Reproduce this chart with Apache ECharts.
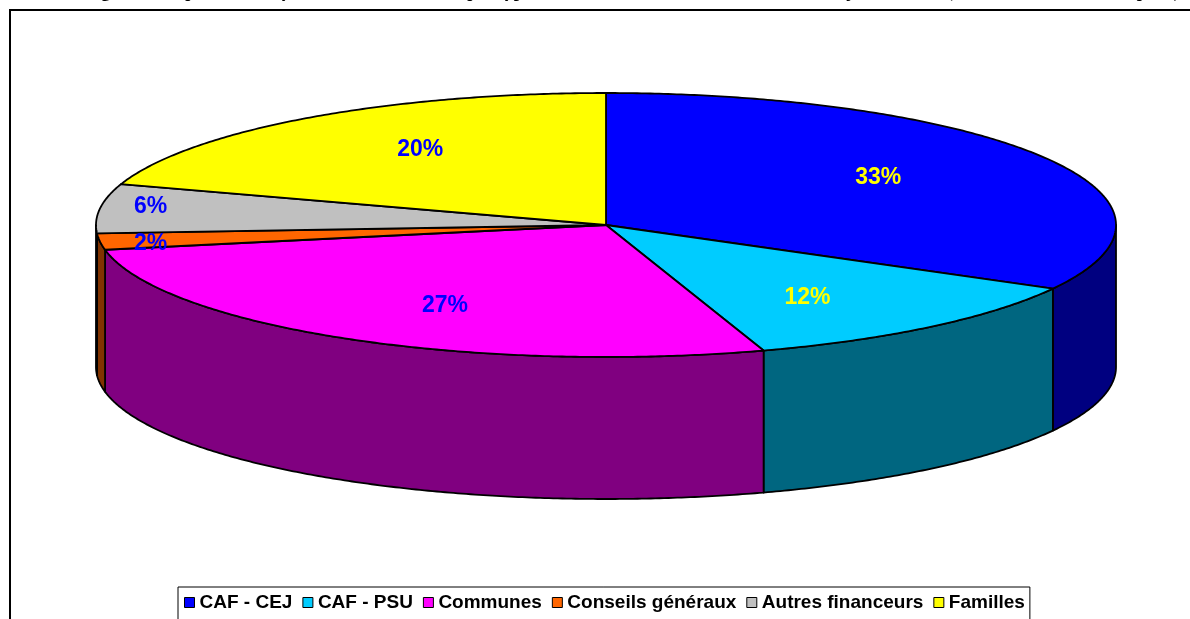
<!DOCTYPE html>
<html><head><meta charset="utf-8">
<script src="https://cdn.jsdelivr.net/npm/echarts@6/dist/echarts.min.js"></script>
<style>html,body{margin:0;padding:0;background:#fff;overflow:hidden}#c{width:1190px;height:619px}</style>
</head><body><div id="c"></div>
<script>
// ---- data ----
const categories = ['CAF - CEJ', 'CAF - PSU', 'Communes', 'Conseils généraux', 'Autres financeurs', 'Familles'];
const shares = [33, 12, 27, 2, 6, 20];
const titleText = 'Figure 9 : Répartition moyenne des financements par type de financeur des structures d’accueil du jeune enfant (en %, données 2006, enquête)';

// ---- styles ----
const topColors = ['#0000FF', '#00CCFF', '#FF00FF', '#FF6600', '#C0C0C0', '#FFFF00'];
const sideColors = ['#000080', '#006680', '#800080', '#803300', '#606060', '#808000'];
const labelColors = ['#FFFF00', '#FFFF00', '#0000FF', '#0000FF', '#0000FF', '#0000FF'];

const CX = 606, CY = 225, RX = 510, RY = 132, DEPTH = 142;
const total = shares.reduce((a, b) => a + b, 0);
const cum = []; { let acc = 0; shares.forEach(v => { cum.push(acc); acc += v; }); }

function angOf(frac) { return (90 - 360 * frac) * Math.PI / 180; }
function pt(a, dy) { return [CX + RX * Math.cos(a), CY - RY * Math.sin(a) + (dy || 0)]; }
function arc(a0, a1, dy) {
  const pts = []; const n = Math.max(2, Math.ceil(Math.abs(a1 - a0) / (Math.PI / 360)));
  for (let i = 0; i <= n; i++) pts.push(pt(a0 + (a1 - a0) * i / n, dy));
  return pts;
}

function renderWall(params, api) {
  const i = params.dataIndex; const v = api.value(0);
  const a = angOf(cum[i] / total), b = angOf((cum[i] + v) / total);
  const s = Math.min(a, 0), e = Math.max(b, -Math.PI);
  if (s <= e) return { type: 'group', children: [] };
  const top = arc(s, e, 0); const bot = arc(e, s, DEPTH);
  return {
    type: 'polygon', shape: { points: top.concat(bot) },
    style: { fill: sideColors[i], stroke: '#000', lineWidth: 1.8, lineJoin: 'round' }
  };
}

function renderTop(params, api) {
  const i = params.dataIndex; const v = api.value(0);
  const a = angOf(cum[i] / total), b = angOf((cum[i] + v) / total);
  const pts = [[CX, CY]].concat(arc(a, b, 0));
  const mid = (a + b) / 2; const small = v / total < 0.1;
  const fx = small ? 0.9 : 0.62, fy = small ? 1.1 : 0.71;
  const lx = CX + RX * fx * Math.cos(mid), ly = CY - RY * fy * Math.sin(mid);
  return {
    type: 'group', children: [
      { type: 'polygon', shape: { points: pts }, style: { fill: topColors[i], stroke: '#000', lineWidth: 1.8, lineJoin: 'round' } },
      { type: 'text', x: lx, y: ly, z2: 10, style: { text: Math.round(v / total * 100) + '%', fill: labelColors[i], font: 'bold 23px "Liberation Sans", Arial, sans-serif', align: 'center', verticalAlign: 'middle' } }
    ]
  };
}

const chart = echarts.init(document.getElementById('c'), null, { renderer: 'canvas' });
chart.setOption({
  animation: false,
  backgroundColor: '#fff',
  graphic: [
    { type: 'rect', shape: { x: 10, y: 10, width: 1200, height: 640 }, style: { fill: 'none', stroke: '#000', lineWidth: 2 }, z: -1 },
    { type: 'text', x: 85, y: 1, style: { text: titleText, font: 'bold 18px "Liberation Serif", "Times New Roman", serif', fill: '#000', verticalAlign: 'bottom' } }
  ],
  legend: {
    data: categories, selectedMode: false, left: 178, top: 587, icon: 'rect',
    itemWidth: 10, itemHeight: 10, itemGap: 10,
    padding: [6, 5, 10, 6], borderColor: '#000', borderWidth: 1, backgroundColor: '#fff',
    itemStyle: { borderColor: '#000', borderWidth: 1 },
    textStyle: { fontFamily: '"Liberation Sans", Arial, sans-serif', fontWeight: 'bold', fontSize: 19, color: '#000' }
  },
  series: [
    { type: 'custom', coordinateSystem: 'none', z: 1, silent: true, data: shares.map(v => [v]), renderItem: renderWall },
    { type: 'custom', coordinateSystem: 'none', z: 2, silent: true, data: shares.map(v => [v]), renderItem: renderTop },
    {
      type: 'pie', radius: [0, 0], center: [-50, -50], silent: true, label: { show: false }, labelLine: { show: false },
      data: categories.map((c, i) => ({ name: c, value: shares[i], itemStyle: { color: topColors[i], borderColor: '#000', borderWidth: 1 } }))
    }
  ]
});
</script></body></html>
